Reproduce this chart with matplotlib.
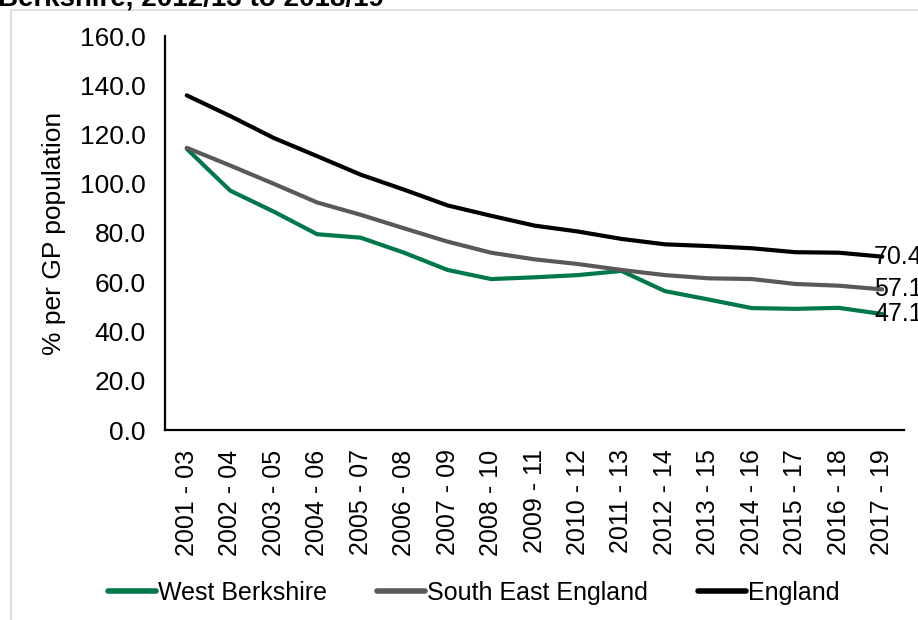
import matplotlib
matplotlib.use("Agg")
import matplotlib.pyplot as plt
from matplotlib.patches import Rectangle

plt.rcParams['font.family'] = ['Liberation Sans', 'DejaVu Sans']

periods = ["2001 - 03", "2002 - 04", "2003 - 05", "2004 - 06", "2005 - 07", "2006 - 08",
           "2007 - 09", "2008 - 10", "2009 - 11", "2010 - 12", "2011 - 13", "2012 - 14",
           "2013 - 15", "2014 - 16", "2015 - 17", "2016 - 18", "2017 - 19"]
west_berkshire = [114.2, 97.2, 88.7, 79.5, 78.1, 72.0, 65.0, 61.3, 62.0, 62.9, 64.6,
                  56.4, 53.0, 49.5, 49.2, 49.6, 47.1]
south_east = [114.6, 107.4, 100.0, 92.4, 87.4, 81.9, 76.5, 72.0, 69.3, 67.4, 65.0,
              62.9, 61.6, 61.3, 59.3, 58.6, 57.1]
england = [135.9, 127.5, 118.6, 111.2, 103.7, 97.6, 91.2, 87.0, 83.0, 80.6, 77.6,
           75.4, 74.7, 73.8, 72.2, 72.0, 70.4]
y_ticks = [0, 20, 40, 60, 80, 100, 120, 140, 160]

series = [("West Berkshire", west_berkshire, "#00784A"),
          ("South East England", south_east, "#595959"),
          ("England", england, "#000000")]

W, H = 918, 620
fig = plt.figure(figsize=(W / 100, H / 100), dpi=100)
fig.patch.set_facecolor("white")

# outer chart frame (partially off-canvas)
fig.patches.append(Rectangle((11 / W, -0.05), 1.2, 1 - 10 / H + 0.05, transform=fig.transFigure,
                             fill=False, edgecolor="#D9D9D9", linewidth=1.2))

# title clipped at the top edge, as in the reference
fig.text(-2 / W, 1 - 5 / H, "Berkshire, 2012/13 to 2018/19", fontsize=20, fontweight="bold",
         ha="left", va="baseline")

ax = fig.add_axes([165 / W, 1 - 430 / H, (904 - 165) / W, (430 - 36) / H])
x = list(range(len(periods)))
for name, vals, col in series:
    ax.plot(x, vals, color=col, linewidth=3.0, label=name, solid_capstyle="round",
            solid_joinstyle="round")
    ax.annotate(f"{vals[-1]:.1f}", (x[-1], vals[-1]), xytext=(-6, 0), textcoords="offset points",
                ha="left", va="center", fontsize=18, annotation_clip=False, color="black")

ax.set_xlim(-0.5, len(periods) - 0.5)
ax.set_ylim(0, 160)
ax.set_yticks(y_ticks)
ax.set_yticklabels([f"{v:.1f}" for v in y_ticks], fontsize=19)
ax.set_xticks(x)
ax.set_xticklabels(periods, rotation=90, fontsize=18)
ax.tick_params(axis="both", length=0)
ax.tick_params(axis="x", pad=14)
ax.tick_params(axis="y", pad=14)
ax.set_ylabel("% per GP population", fontsize=19, labelpad=10)
for s in ["top", "right"]:
    ax.spines[s].set_visible(False)
for s in ["left", "bottom"]:
    ax.spines[s].set_linewidth(1.6)
    ax.spines[s].set_color("black")

leg = fig.legend(loc="center", bbox_to_anchor=(474 / W, 1 - 593 / H), ncol=3, frameon=False,
                 fontsize=18, handlelength=1.9, handletextpad=0.1, columnspacing=2.0)
for line in leg.get_lines():
    line.set_linewidth(4)
    line.set_solid_capstyle("round")

fig.savefig("out.png", dpi=100, facecolor="white")
